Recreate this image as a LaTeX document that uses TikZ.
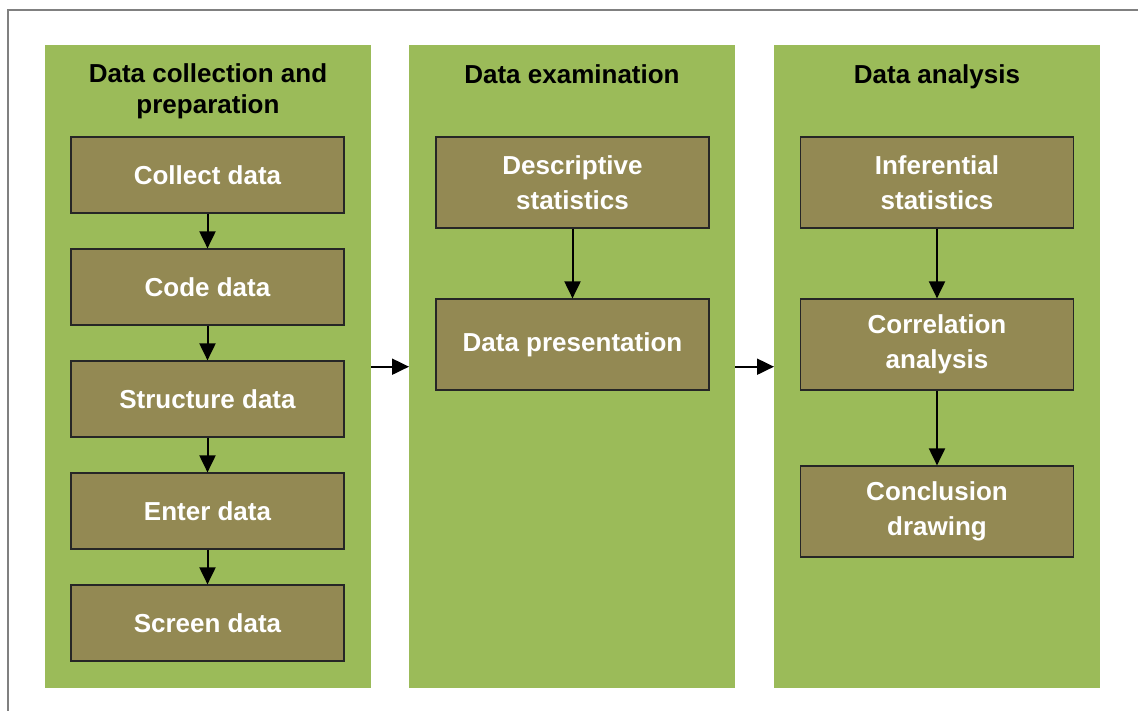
\documentclass[tikz,border=0pt]{standalone}
\usepackage{fontspec}
\setmainfont{Liberation Sans}
\usetikzlibrary{positioning,arrows.meta}
\definecolor{panelgreen}{HTML}{9BBB59}
\definecolor{stepolive}{HTML}{938953}

\begin{document}
\begin{tikzpicture}[x=1pt, y=-1pt, font=\bfseries\fontsize{26}{35}\selectfont,
  node distance=34.8pt,
  panel/.style={fill=panelgreen, minimum width=326pt, minimum height=643pt, inner sep=0pt, anchor=north west},
  ptitle/.style={align=center, font=\bfseries\fontsize{26}{31}\selectfont},
  b/.style={draw=black!85, line width=1.2pt, fill=stepolive, text=white, align=center, inner sep=0pt, minimum width=273pt, minimum height=76pt},
  bb/.style={b, minimum height=91pt},
  a/.style={-{Triangle[length=17pt,width=16pt]}, line width=2pt}]
\useasboundingbox (0,0) rectangle (1138,711);
\draw[gray, line width=2pt] (8,711) -- (8,10) -- (1138,10);

% three stages
\node[panel] (p1) at (45,45) {};
\node[panel] (p2) at (409,45) {};
\node[panel] (p3) at (774,45) {};
\node[ptitle] (t1) at (208,91) {Data collection and\\preparation};
\node[ptitle, anchor=base] (t2) at (572,84) {Data examination};
\node[ptitle, anchor=base] (t3) at (937,84) {Data analysis};

% collection and preparation
\node[b] (c1) at (207.5,175) {Collect data};
\node[b, below=of c1] (c2) {Code data};
\node[b, below=of c2] (c3) {Structure data};
\node[b, below=of c3] (c4) {Enter data};
\node[b, below=of c4] (c5) {Screen data};

% examination
\node[bb] (e1) at (572.5,182.5) {Descriptive\\statistics};
\node[bb, below=69.8pt of e1] (e2) {Data presentation};

% analysis
\node[bb] (n1) at (937,182.5) {Inferential\\statistics};
\node[bb, below=69.8pt of n1] (n2) {Correlation\\analysis};
\node[bb, below=74.8pt of n2] (n3) {Conclusion\\drawing};

\foreach \x/\y in {c1/c2,c2/c3,c3/c4,c4/c5,e1/e2,n1/n2,n2/n3} {\draw[a] (\x) -- (\y);}
\foreach \x/\y in {p1/p2,p2/p3} {\draw[a] (\x.east) -- (\y.west);}
\end{tikzpicture}
\end{document}
